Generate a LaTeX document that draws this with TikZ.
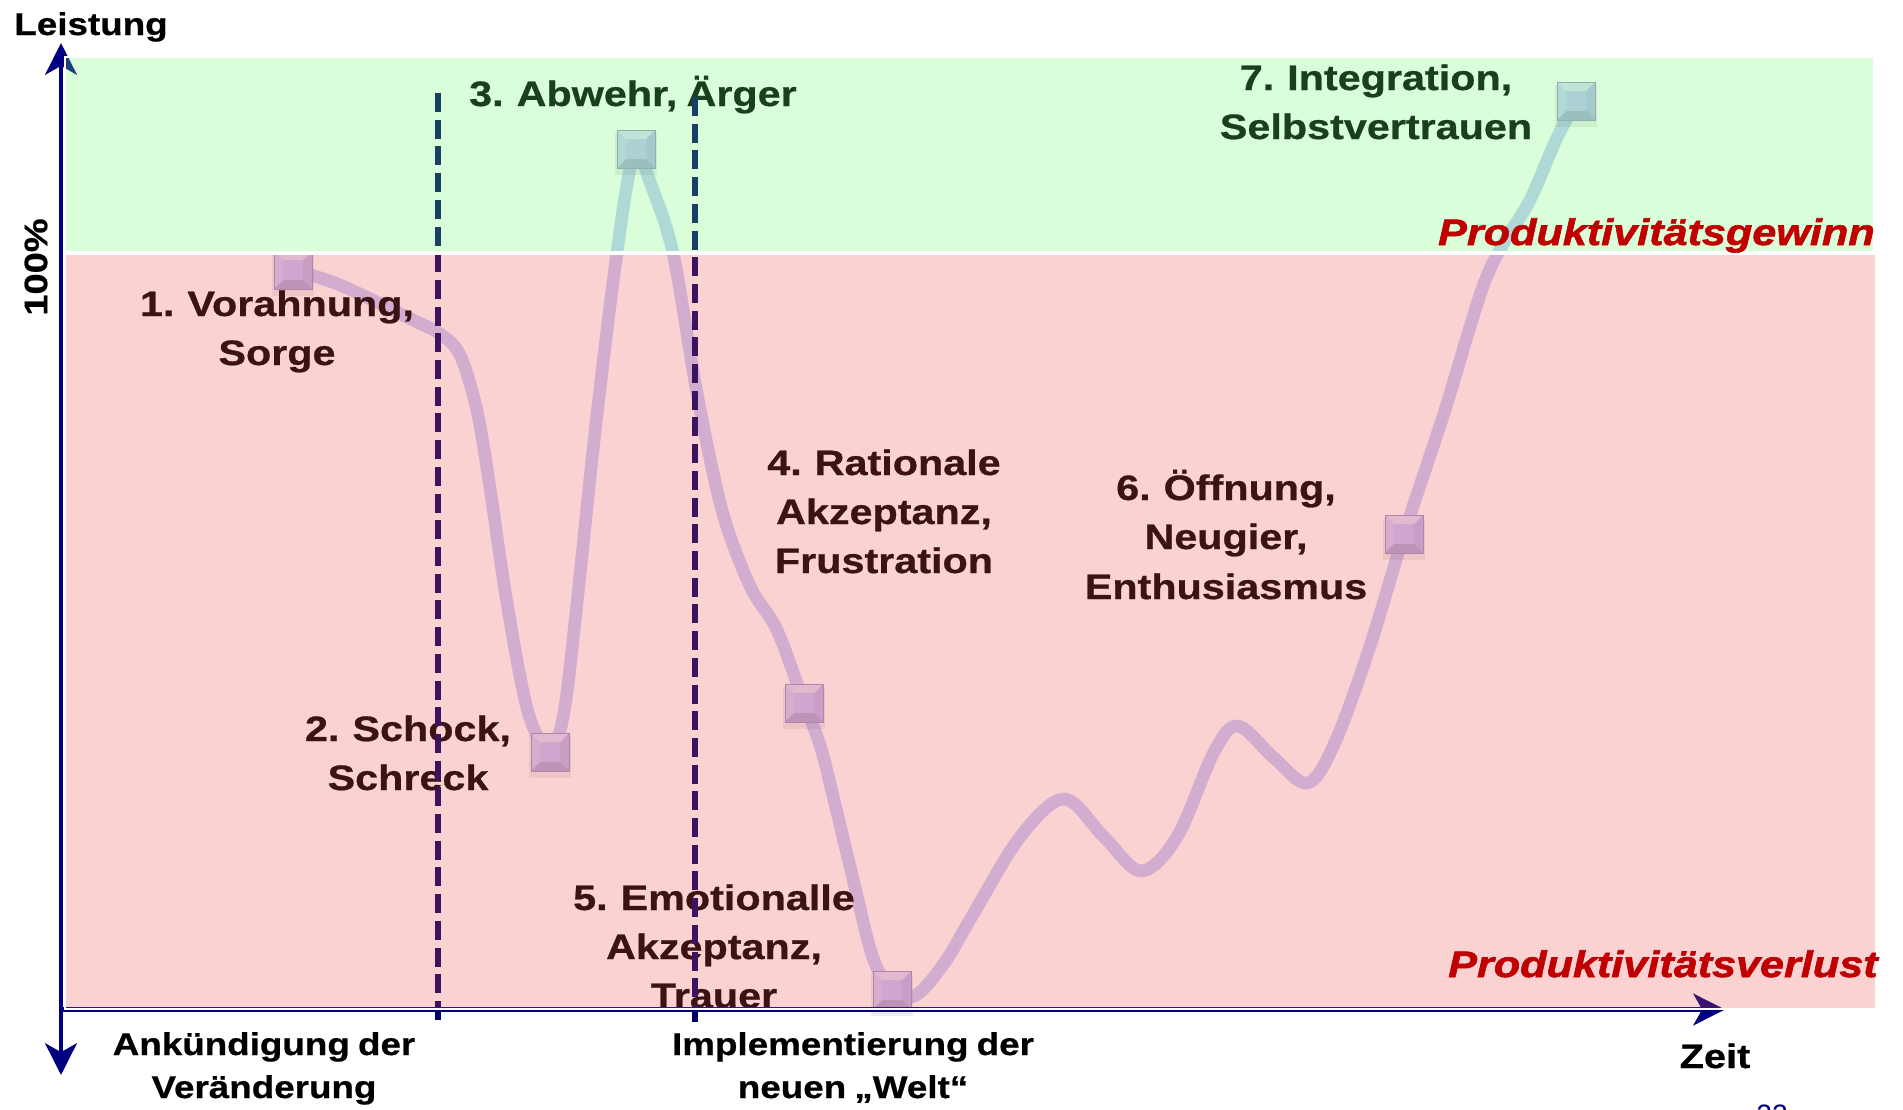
\documentclass[tikz,border=0pt]{standalone}
\usepackage{fontspec}
\setmainfont{Liberation Sans}[FakeStretch=1.17, FakeBold=0.7, WordSpace=0.8]
\newfontfamily\heavyfont{Liberation Sans}[FakeStretch=1.17, FakeBold=1.6, WordSpace=0.8]
\newfontfamily\plainfont{Liberation Sans}
\usetikzlibrary{arrows.meta}

\definecolor{axisblue}{RGB}{0,0,128}
\definecolor{dashblue}{RGB}{0,0,100}
\definecolor{curvebase}{RGB}{200,206,252}
\definecolor{markerbase}{RGB}{196,196,250}
\definecolor{markeredge}{RGB}{160,150,205}
\definecolor{gaintint}{RGB}{104,252,104}
\definecolor{losstint}{RGB}{242,77,77}
\definecolor{redlabel}{RGB}{192,0,0}

\tikzset{axistip/.tip={Stealth[length=18pt, width=18pt, inset=5pt]}}

\begin{document}
\begin{tikzpicture}[x=0.02cm, y=-0.02cm,
  lbl/.style={anchor=base, inner sep=0pt, text=black,
    font=\fontsize{20.1}{24}\selectfont\bfseries},
  axislbl/.style={anchor=base, inner sep=0pt, text=black,
    font=\fontsize{17.9}{21}\selectfont\bfseries},
  zonelbl/.style={anchor=base east, inner sep=0pt, text=redlabel,
    font=\heavyfont\fontsize{21}{25}\selectfont\bfseries\itshape},
  phase/.style={curvebase, line width=7.2pt, line cap=round, line join=round},
  divider/.style={dashblue, line width=3.4pt, dash pattern=on 10.8pt off 4.4pt},
  axisline/.style={axisblue, line width=2.8pt},
  markershadow/.style={rectangle, minimum size=0.84cm, inner sep=0pt,
    fill=black, fill opacity=0.07},
  marker/.style={rectangle, minimum size=0.76cm, inner sep=0pt,
    fill=markerbase, draw=markeredge, line width=0.5pt,
    path picture={
      \fill[white, fill opacity=0.45]
        (path picture bounding box.north west) -- (path picture bounding box.north east)
        -- ([shift={(-5pt,-5pt)}]path picture bounding box.north east)
        -- ([shift={(5pt,-5pt)}]path picture bounding box.north west) -- cycle;
      \fill[white, fill opacity=0.18]
        (path picture bounding box.north west) -- ([shift={(5pt,-5pt)}]path picture bounding box.north west)
        -- ([shift={(5pt,5pt)}]path picture bounding box.south west)
        -- (path picture bounding box.south west) -- cycle;
      \fill[black, fill opacity=0.05]
        (path picture bounding box.north east) -- ([shift={(-5pt,-5pt)}]path picture bounding box.north east)
        -- ([shift={(-5pt,5pt)}]path picture bounding box.south east)
        -- (path picture bounding box.south east) -- cycle;
      \fill[black, fill opacity=0.12]
        (path picture bounding box.south west) -- (path picture bounding box.south east)
        -- ([shift={(-5pt,5pt)}]path picture bounding box.south east)
        -- ([shift={(5pt,5pt)}]path picture bounding box.south west) -- cycle;
    }},
]
% canvas
\fill[white] (0,0) rectangle (1903,1109);
\useasboundingbox (0,0) rectangle (1903,1109);

% phase positions on the curve
\coordinate (c1) at (293,270);
\coordinate (c2) at (550,752);
\coordinate (c3) at (636,149);
\coordinate (c4) at (804,703);
\coordinate (c5) at (892,990);
\coordinate (c6) at (1404,534);
\coordinate (c7) at (1576,101);

% axis end points
\coordinate (ytop) at (61,43);
\coordinate (ybot) at (61,1075);
\coordinate (xorg) at (60,1009.5);
\coordinate (xend) at (1725,1009.5);

% change curve
\draw[phase] plot[smooth, tension=0.55] coordinates {
  (c1) (340,285) (413,320) (440,334) (460,355) (477,411) (490,488) (507,603) (528,712)
  (c2) (564,712) (577,603) (593,450) (607,330) (618,245) (627,185)
  (c3) (650,182) (673,253) (697,393) (722,510) (750,586) (777,630)
  (c4) (820,745) (834,800) (854,883) (873,958)
  (c5) (916,995) (945,962) (971,918) (1020,837) (1064,799)
  (1104,837) (1141,871) (1177,837) (1214,752) (1238,726) (1274,758) (1308,783)
  (1336,740) (1371,643)
  (c6) (1444,413) (1481,292) (1502,246) (1530,200) (1555,142)
  (c7)};

% phase markers
\foreach \c in {c1,c2,c3,c4,c5,c6,c7}
  \node[markershadow] (s-\c) at ([yshift=-3pt]\c) {};
\node[marker] (m1) at (c1) {};
\node[marker] (m2) at (c2) {};
\node[marker] (m3) at (c3) {};
\node[marker] (m4) at (c4) {};
\node[marker] (m5) at (c5) {};
\node[marker] (m6) at (c6) {};
\node[marker] (m7) at (c7) {};

% phase labels
\node[lbl] (t1a) at (277,316) {1. Vorahnung,};
\node[lbl] (t1b) at (277,365) {Sorge};
\node[lbl] (t2a) at (408,741) {2. Schock,};
\node[lbl] (t2b) at (408,790) {Schreck};
\node[lbl] (t3a) at (633,106) {3. Abwehr, Ärger};
\node[lbl] (t4a) at (884,475) {4. Rationale};
\node[lbl] (t4b) at (884,524) {Akzeptanz,};
\node[lbl] (t4c) at (884,573) {Frustration};
\node[lbl] (t5a) at (714,910) {5. Emotionalle};
\node[lbl] (t5b) at (714,959) {Akzeptanz,};
\node[lbl] (t5c) at (714,1008) {Trauer};
\node[lbl] (t6a) at (1226,500) {6. Öffnung,};
\node[lbl] (t6b) at (1226,549) {Neugier,};
\node[lbl] (t6c) at (1226,599) {Enthusiasmus};
\node[lbl] (t7a) at (1376,90) {7. Integration,};
\node[lbl] (t7b) at (1376,139) {Selbstvertrauen};

% milestones
\coordinate (d1top) at (438,93);
\coordinate (d1bot) at (438,1020);
\coordinate (d2top) at (695,97);
\coordinate (d2bot) at (695,1022);
\draw[divider] (d1top) -- (d1bot);
\draw[divider] (d2top) -- (d2bot);

% axes
\draw[axisline, -{axistip}] (xorg) -- (xend);
\draw[axisline, {axistip}-{axistip}] (ybot) -- (ytop);

% tinted zones
\fill[gaintint, fill opacity=0.25] (65,57) rectangle (1874,252);
\fill[losstint, fill opacity=0.25] (65,254) rectangle (1876,1009);
\draw[white, line width=0.7pt] (65,57) rectangle (1874,252);
\draw[white, line width=0.7pt] (65,254) rectangle (1876,1009);

% zone names
\node[zonelbl] (gain) at (1875,245) {Produktivitätsgewinn};
\node[zonelbl] (loss) at (1878,977) {Produktivitätsverlust};

% axis texts
\node[axislbl] (ylabel) at (91,35) {Leistung};
\node[anchor=center, inner sep=0pt, rotate=90, text=black,
  font=\fontsize{18.5}{22}\selectfont\bfseries] (full) at (36,267) {100\%};
\node[anchor=base, inner sep=0pt, text=black,
  font=\fontsize{19.3}{23}\selectfont\bfseries] (xlabel) at (1715,1068) {Zeit};
\node[axislbl] (b1a) at (264,1055) {Ankündigung der};
\node[axislbl] (b1b) at (264,1098) {Veränderung};
\node[axislbl] (b2a) at (853,1055) {Implementierung der};
\node[axislbl] (b2b) at (853,1098) {neuen „Welt“};
\node[anchor=base, inner sep=0pt, text=axisblue,
  font=\plainfont\fontsize{16}{19}\selectfont] (page) at (1772,1124) {22};
\end{tikzpicture}
\end{document}
